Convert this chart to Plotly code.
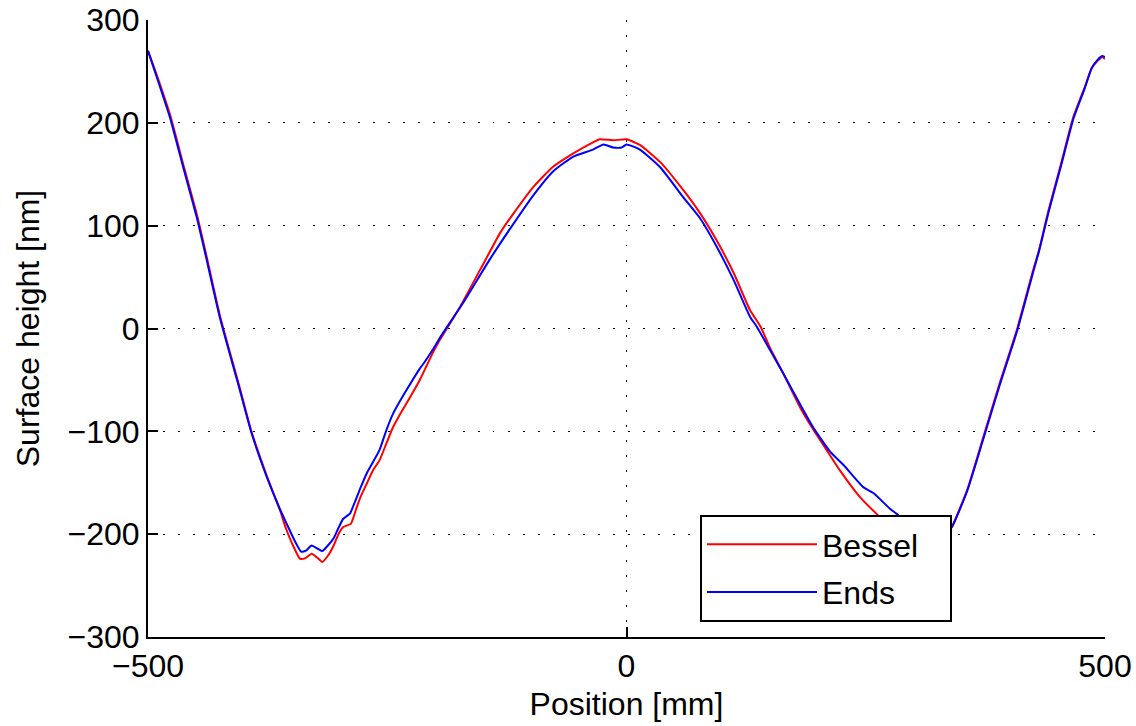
import plotly.graph_objects as go

# Bessel support (red)
bessel_x = [-500, -491, -477, -463, -449, -439, -425, -404, -392, -376, -362, -356, -348, -341, -335,
            -329, -323, -318, -312, -306, -301, -296, -288, -283, -278, -271, -265, -258, -251, -244,
            -237, -230, -216, -202, -195, -174, -153, -132, -118, -97, -77, -56, -35, -28, -14, 0,
            14, 35, 59, 77, 94, 112, 129, 140, 150, 164, 181, 195, 209, 223, 244, 261, 275, 290,
            305, 320, 333, 340, 356, 373, 390, 408, 425, 431, 441, 454, 467, 479, 486, 492, 497, 500]
bessel_y = [270, 247, 208, 159, 111, 71, 13, -58, -100, -143, -177, -194, -212, -224, -223,
            -219, -223, -227, -221, -211, -200, -193, -190, -177, -164, -150, -138, -128, -112, -96,
            -84, -73, -50, -23, -11, 21, 57, 93, 112, 138, 157, 170, 181, 184, 183, 184,
            178.5, 162, 135, 112, 86, 54, 18, 2, -19, -44, -76, -98, -118, -138, -164, -180, -192, -201,
            -207, -208, -202, -193, -157, -105, -53, -1, 57, 76, 115, 160, 206, 235, 253, 260, 264, 262]

# Ends support (blue)
ends_x = [-500, -491, -477, -463, -449, -439, -425, -404, -392, -376, -362, -355, -348, -340, -335,
          -329, -323, -318, -312, -306, -301, -296, -289, -284, -278, -271, -265, -258, -251, -244,
          -237, -230, -216, -212, -202, -195, -171, -143, -118, -97, -77, -56, -35, -24, -14, -5, 0,
          14, 35, 59, 77, 94, 112, 129, 136, 150, 164, 181, 195, 213, 227, 247, 258, 275, 282,
          295, 310, 325, 335, 340, 356, 373, 390, 408, 425, 431, 441, 454, 467, 479, 486, 492, 497, 500]
ends_y = [270, 245, 205, 156, 108, 68, 11, -60, -101, -144, -176, -190, -204, -217, -216,
          -211, -214, -216.5, -211, -204, -194, -185, -180, -169, -155, -140, -130, -118, -99, -83,
          -71, -60, -39, -34, -20, -9, 24.5, 67, 102, 130, 152.5, 167, 174, 179, 176, 176, 179,
          174, 157, 128, 107, 80, 47, 11.5, 2, -21, -44, -73, -96, -120, -133, -154, -160, -175, -180,
          -190, -197, -200, -197, -193, -158, -107, -55, -3, 55, 75, 113, 158, 204, 234, 253, 261, 265, 264]

x_ticks = [-500, 0, 500]
y_ticks = [-300, -200, -100, 0, 100, 200, 300]
series_names = ["Bessel", "Ends"]

FONT = "Liberation Sans, Arial, Helvetica, sans-serif"
FS = 32
PAD = "\u00a0\u00a0\u00a0"

fig = go.Figure()
fig.add_trace(go.Scatter(x=bessel_x, y=bessel_y, mode="lines", name=series_names[0] + PAD,
                         legendgroup="a",
                         line=dict(color="#ff0000", width=2, shape="spline", smoothing=0.5)))
fig.add_trace(go.Scatter(x=ends_x, y=ends_y, mode="lines", name=series_names[1] + PAD,
                         legendgroup="b",
                         line=dict(color="#0000ff", width=2, shape="spline", smoothing=0.5)))

grid = dict(showgrid=True, gridcolor="#000000", gridwidth=1, griddash="1.5px,13.5px")

fig.update_xaxes(range=[-500, 500], tickvals=x_ticks, zeroline=False,
                 showline=True, linecolor="black", linewidth=2, mirror=False,
                 ticks="inside", ticklen=10, tickwidth=1.5, tickcolor="black",
                 ticklabelstandoff=0, ticklabeloverflow="allow",
                 title=dict(text="Position [mm]", standoff=9, font=dict(size=FS, color="black")),
                 tickfont=dict(size=FS, color="black"), **grid)
fig.update_yaxes(range=[-300, 300], tickvals=y_ticks, zeroline=False,
                 showline=True, linecolor="black", linewidth=2, mirror=False,
                 ticks="inside", ticklen=10, tickwidth=1.5, tickcolor="black",
                 ticklabelstandoff=0, ticklabeloverflow="allow",
                 title=dict(text="Surface height [nm]", standoff=18, font=dict(size=FS, color="black")),
                 tickfont=dict(size=FS, color="black"), **grid)

# plot area target (page px): x 148..1105, y 20..637
fig.update_layout(
    width=1136, height=726,
    margin=dict(l=148, r=31, t=20, b=89, autoexpand=False),
    paper_bgcolor="white", plot_bgcolor="white",
    font=dict(family=FONT, size=FS, color="black"),
    showlegend=True,
    legend=dict(x=(700 - 148) / 957, y=(637 - 515) / 617, xanchor="left", yanchor="top",
                bgcolor="white", bordercolor="black", borderwidth=2,
                font=dict(size=FS, color="black"), tracegroupgap=3,
                itemwidth=110),
)

fig.write_html("out.html", config={"displayModeBar": False},
               post_script=["document.body.style.margin='0';"])
